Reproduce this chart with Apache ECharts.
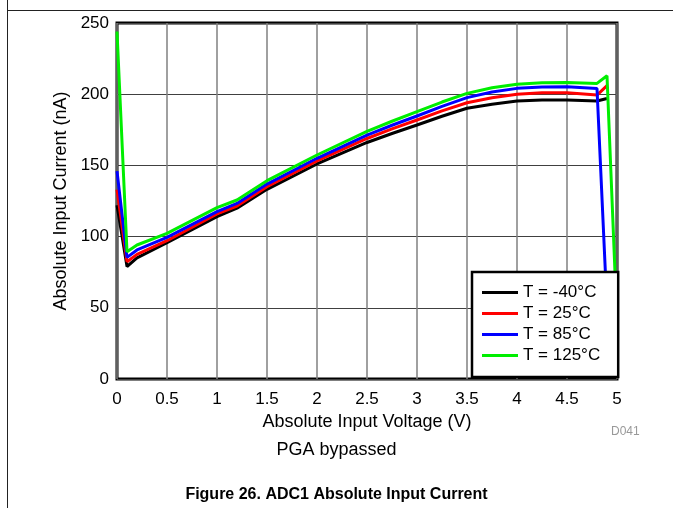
<!DOCTYPE html>
<html>
<head>
<meta charset="utf-8">
<script src="https://cdn.jsdelivr.net/npm/echarts@6/dist/echarts.min.js"></script>
<style>
html,body{margin:0;padding:0;background:#fff;}
#chart{width:673px;height:508px;}
</style>
</head>
<body>
<div id="chart"></div>
<script>
// Voltage points (V)
const voltage = [0, 0.1, 0.2, 0.5, 1.0, 1.2, 1.5, 2.0, 2.5, 2.75, 3.0, 3.25, 3.5, 3.75, 4.0, 4.25, 4.5, 4.8, 4.9, 5.0];
// Absolute input current (nA)
const currentM40 = [122, 79, 85, 95.7, 114, 120, 133.2, 151, 166.1, 172.4, 178.4, 184.5, 190.1, 193, 195.2, 196, 196, 195.2, 197, null];
const current25  = [133, 82.4, 87.5, 97.1, 115.9, 121.5, 135, 153.1, 168.9, 175.6, 181.9, 188.3, 194, 197.5, 199.9, 201, 201.1, 199.4, 206, null];
const current85  = [146, 85.4, 90.6, 99.5, 117.5, 123.3, 136.9, 155, 171.3, 178.2, 184.7, 191.5, 197.6, 201.5, 204.1, 205, 205.3, 204, 50, null];
const current125 = [244, 89.4, 94.1, 102.3, 120.3, 125.7, 139.3, 157.3, 173.9, 181, 187.7, 194.5, 200.6, 204.5, 207, 208, 208.3, 207.6, 213, 40];
const seriesNames = ['T = -40°C', 'T = 25°C', 'T = 85°C', 'T = 125°C'];
const seriesColors = ['#000000', '#ff0000', '#0000ff', '#00ee00'];
const xTicks = ['0', '0.5', '1', '1.5', '2', '2.5', '3', '3.5', '4', '4.5', '5'];

const allSeries = [currentM40, current25, current85, current125];
const FONT = '"Liberation Sans", Arial, sans-serif';

const chart = echarts.init(document.getElementById('chart'), null, {renderer: 'canvas'});
chart.setOption({
  animation: false,
  backgroundColor: '#ffffff',
  grid: {
    left: 117, right: 56, top: 23, bottom: 129,
    show: true, borderColor: '#000', borderWidth: 3, backgroundColor: 'transparent'
  },
  xAxis: {
    type: 'value', min: 0, max: 5, interval: 0.5,
    name: 'Absolute Input Voltage (V)', nameLocation: 'middle', nameGap: 31,
    nameTextStyle: {fontFamily: FONT, fontSize: 18, color: '#000'},
    axisLine: {show: false},
    axisTick: {show: false},
    axisLabel: {
      fontFamily: FONT, fontSize: 17, color: '#000', margin: 12,
      formatter: function (v) { const i = Math.round(v / 0.5); return xTicks[i] !== undefined ? xTicks[i] : ''; }
    },
    splitLine: {show: true, lineStyle: {color: '#808080', width: 1.5}}
  },
  yAxis: {
    type: 'value', min: 0, max: 250, interval: 50,
    name: 'Absolute Input Current (nA)', nameLocation: 'middle', nameGap: 46, nameRotate: 90,
    nameTextStyle: {fontFamily: FONT, fontSize: 18, color: '#000'},
    axisLine: {show: false},
    axisTick: {show: false},
    axisLabel: {fontFamily: FONT, fontSize: 17, color: '#000', margin: 8},
    splitLine: {show: true, lineStyle: {color: '#404040', width: 1.2}}
  },
  legend: {
    z: 20,
    orient: 'vertical', left: 472, top: 272,
    backgroundColor: '#fff', borderColor: '#000', borderWidth: 2.5,
    padding: [12, 18, 13, 10],
    itemWidth: 36, itemHeight: 17, itemGap: 4,
    textStyle: {fontFamily: FONT, fontSize: 17, color: '#000'},
    data: seriesNames.map(n => ({name: n, icon: 'path://M0,7 L36,7 L36,10 L0,10 Z'}))
  },
  series: allSeries.map((arr, i) => ({
    name: seriesNames[i],
    type: 'line',
    data: voltage.map((v, k) => [v, arr[k]]).filter(p => p[1] !== null),
    symbol: 'none',
    color: seriesColors[i],
    lineStyle: {color: seriesColors[i], width: 3},
    z: 2,
    clip: true
  })),
  graphic: [
    {type: 'line', shape: {x1: 7.5, y1: 0, x2: 7.5, y2: 508}, style: {stroke: '#222', lineWidth: 1}},
    {type: 'line', shape: {x1: 7, y1: 10.5, x2: 673, y2: 10.5}, style: {stroke: '#222', lineWidth: 1}},
    {type: 'text', left: 611, top: 426, style: {text: 'D041', fontFamily: FONT, fontSize: 12, fill: '#999'}},
    {type: 'text', left: 'center', top: 441, style: {text: 'PGA bypassed', fontFamily: FONT, fontSize: 18, fill: '#000'}},
    {type: 'text', left: 'center', top: 487, style: {text: 'Figure 26. ADC1 Absolute Input Current', fontFamily: FONT, fontSize: 16, fontWeight: 'bold', fill: '#000'}}
  ]
});
</script>
</body>
</html>
